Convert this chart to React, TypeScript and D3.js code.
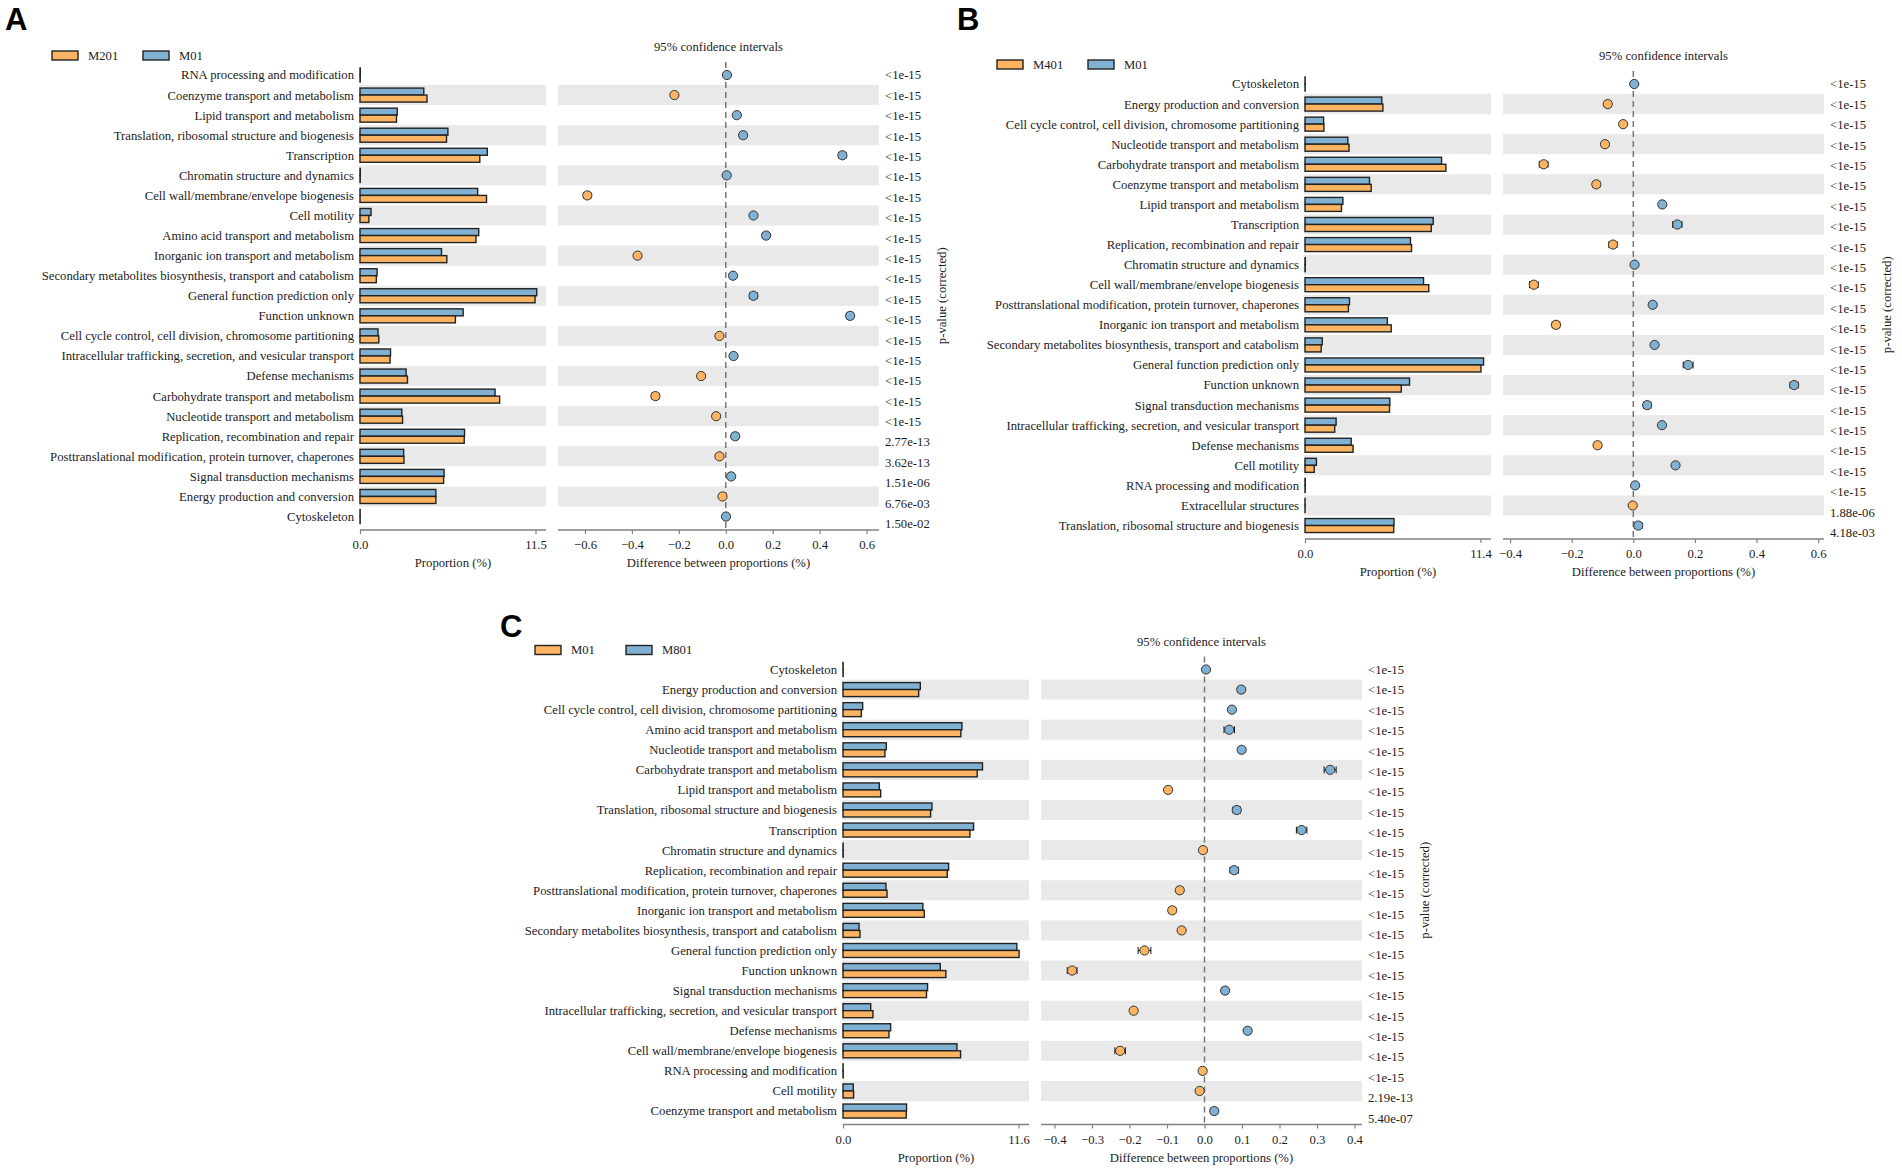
import React, { useEffect, useRef } from 'react';
import * as d3 from 'd3';

const ORANGE = '#fdb462';
const BLUE = '#80b1d3';
const SERIF = '"Liberation Serif", "Times New Roman", serif';
const LT = '<1e-15';

// Panel A: M201 (orange) vs M01 (blue)
const catA = [
  'RNA processing and modification',
  'Coenzyme transport and metabolism',
  'Lipid transport and metabolism',
  'Translation, ribosomal structure and biogenesis',
  'Transcription',
  'Chromatin structure and dynamics',
  'Cell wall/membrane/envelope biogenesis',
  'Cell motility',
  'Amino acid transport and metabolism',
  'Inorganic ion transport and metabolism',
  'Secondary metabolites biosynthesis, transport and catabolism',
  'General function prediction only',
  'Function unknown',
  'Cell cycle control, cell division, chromosome partitioning',
  'Intracellular trafficking, secretion, and vesicular transport',
  'Defense mechanisms',
  'Carbohydrate transport and metabolism',
  'Nucleotide transport and metabolism',
  'Replication, recombination and repair',
  'Posttranslational modification, protein turnover, chaperones',
  'Signal transduction mechanisms',
  'Energy production and conversion',
  'Cytoskeleton',
];
const m01A = [0.02, 4.18, 2.44, 5.76, 8.34, 0.02, 7.71, 0.72, 7.78, 5.34, 1.12, 11.58, 6.76, 1.18, 2.0, 3.02, 8.85, 2.74, 6.85, 2.86, 5.51, 4.97, 0.01];
const m201A = [0.015, 4.39, 2.39, 5.67, 7.85, 0.015, 8.29, 0.58, 7.6, 5.69, 1.07, 11.47, 6.25, 1.23, 1.97, 3.11, 9.15, 2.79, 6.83, 2.88, 5.48, 4.97, 0.01];
const diffA = [0.005, -0.219, 0.047, 0.074, 0.497, 0.004, -0.59, 0.118, 0.172, -0.376, 0.031, 0.118, 0.53, -0.027, 0.033, -0.105, -0.3, -0.041, 0.04, -0.027, 0.023, -0.014, 0.001];
const ciA = [0.004, 0.012, 0.009, 0.013, 0.015, 0.003, 0.015, 0.007, 0.014, 0.013, 0.006, 0.016, 0.014, 0.006, 0.008, 0.009, 0.015, 0.009, 0.014, 0.01, 0.012, 0.012, 0.002];
const pA = [LT, LT, LT, LT, LT, LT, LT, LT, LT, LT, LT, LT, LT, LT, LT, LT, LT, LT, '2.77e-13', '3.62e-13', '1.51e-06', '6.76e-03', '1.50e-02'];
const diffTicksA = [-0.6, -0.4, -0.2, 0, 0.2, 0.4, 0.6];

// Panel B: M401 (orange) vs M01 (blue)
const catB = [
  'Cytoskeleton',
  'Energy production and conversion',
  'Cell cycle control, cell division, chromosome partitioning',
  'Nucleotide transport and metabolism',
  'Carbohydrate transport and metabolism',
  'Coenzyme transport and metabolism',
  'Lipid transport and metabolism',
  'Transcription',
  'Replication, recombination and repair',
  'Chromatin structure and dynamics',
  'Cell wall/membrane/envelope biogenesis',
  'Posttranslational modification, protein turnover, chaperones',
  'Inorganic ion transport and metabolism',
  'Secondary metabolites biosynthesis, transport and catabolism',
  'General function prediction only',
  'Function unknown',
  'Signal transduction mechanisms',
  'Intracellular trafficking, secretion, and vesicular transport',
  'Defense mechanisms',
  'Cell motility',
  'RNA processing and modification',
  'Extracellular structures',
  'Translation, ribosomal structure and biogenesis',
];
const m01B = [0.01, 4.99, 1.21, 2.78, 8.87, 4.19, 2.46, 8.33, 6.85, 0.02, 7.7, 2.89, 5.35, 1.12, 11.6, 6.79, 5.51, 2.02, 3.0, 0.74, 0.02, 0.005, 5.78];
const m401B = [0.01, 5.06, 1.23, 2.86, 9.15, 4.3, 2.37, 8.2, 6.92, 0.015, 8.04, 2.82, 5.6, 1.05, 11.43, 6.25, 5.49, 1.93, 3.12, 0.6, 0.015, 0.005, 5.76];
const diffB = [0.003, -0.083, -0.033, -0.092, -0.291, -0.12, 0.094, 0.143, -0.066, 0.004, -0.323, 0.063, -0.251, 0.069, 0.178, 0.522, 0.045, 0.093, -0.116, 0.137, 0.006, -0.002, 0.016];
const ciB = [0.003, 0.01, 0.006, 0.009, 0.014, 0.011, 0.009, 0.015, 0.013, 0.003, 0.014, 0.009, 0.012, 0.006, 0.016, 0.013, 0.012, 0.008, 0.01, 0.005, 0.003, 0.002, 0.012];
const pB = [LT, LT, LT, LT, LT, LT, LT, LT, LT, LT, LT, LT, LT, LT, LT, LT, LT, LT, LT, LT, LT, '1.88e-06', '4.18e-03'];
const diffTicksB = [-0.4, -0.2, 0, 0.2, 0.4, 0.6];

// Panel C: M01 (orange) vs M801 (blue)
const catC = [
  'Cytoskeleton',
  'Energy production and conversion',
  'Cell cycle control, cell division, chromosome partitioning',
  'Amino acid transport and metabolism',
  'Nucleotide transport and metabolism',
  'Carbohydrate transport and metabolism',
  'Lipid transport and metabolism',
  'Translation, ribosomal structure and biogenesis',
  'Transcription',
  'Chromatin structure and dynamics',
  'Replication, recombination and repair',
  'Posttranslational modification, protein turnover, chaperones',
  'Inorganic ion transport and metabolism',
  'Secondary metabolites biosynthesis, transport and catabolism',
  'General function prediction only',
  'Function unknown',
  'Signal transduction mechanisms',
  'Intracellular trafficking, secretion, and vesicular transport',
  'Defense mechanisms',
  'Cell wall/membrane/envelope biogenesis',
  'RNA processing and modification',
  'Cell motility',
  'Coenzyme transport and metabolism',
];
const m801C = [0.01, 5.11, 1.3, 7.86, 2.86, 9.22, 2.4, 5.88, 8.63, 0.01, 6.98, 2.84, 5.28, 1.06, 11.49, 6.43, 5.59, 1.83, 3.15, 7.53, 0.01, 0.68, 4.2];
const m01C = [0.01, 5.0, 1.21, 7.79, 2.77, 8.87, 2.49, 5.79, 8.39, 0.015, 6.89, 2.91, 5.37, 1.12, 11.64, 6.8, 5.52, 1.98, 3.04, 7.77, 0.015, 0.7, 4.18];
const diffC = [0.004, 0.098, 0.073, 0.066, 0.099, 0.335, -0.097, 0.086, 0.259, -0.004, 0.079, -0.066, -0.086, -0.061, -0.16, -0.353, 0.055, -0.189, 0.115, -0.225, -0.005, -0.013, 0.026];
const ciC = [0.003, 0.009, 0.006, 0.014, 0.008, 0.016, 0.007, 0.01, 0.014, 0.003, 0.011, 0.008, 0.009, 0.006, 0.017, 0.013, 0.009, 0.007, 0.008, 0.014, 0.003, 0.004, 0.009];
const pC = [LT, LT, LT, LT, LT, LT, LT, LT, LT, LT, LT, LT, LT, LT, LT, LT, LT, LT, LT, LT, LT, '2.19e-13', '5.40e-07'];
const diffTicksC = [-0.4, -0.3, -0.2, -0.1, 0, 0.1, 0.2, 0.3, 0.4];

interface PanelSpec {
  letter: string;
  letterX: number;
  letterY: number;
  x0: number; // left edge of the proportion axis
  y0: number; // centre of the first row
  legend: [string, string]; // orange name, blue name
  cats: string[];
  blue: number[];
  orange: number[];
  diff: number[];
  ci: number[];
  pvals: string[];
  barMax: number;
  diffDomain: [number, number];
  diffTicks: number[];
}

const panels: PanelSpec[] = [
  {
    letter: 'A', letterX: 5, letterY: 30, x0: 360, y0: 75,
    legend: ['M201', 'M01'], cats: catA, blue: m01A, orange: m201A,
    diff: diffA, ci: ciA, pvals: pA, barMax: 11.5,
    diffDomain: [-0.715, 0.653], diffTicks: diffTicksA,
  },
  {
    letter: 'B', letterX: 957, letterY: 30, x0: 1305, y0: 84,
    legend: ['M401', 'M01'], cats: catB, blue: m01B, orange: m401B,
    diff: diffB, ci: ciB, pvals: pB, barMax: 11.4,
    diffDomain: [-0.423, 0.619], diffTicks: diffTicksB,
  },
  {
    letter: 'C', letterX: 500, letterY: 637, x0: 843, y0: 669.5,
    legend: ['M01', 'M801'], cats: catC, blue: m801C, orange: m01C,
    diff: diffC, ci: ciC, pvals: pC, barMax: 11.6,
    diffDomain: [-0.436, 0.42], diffTicks: diffTicksC,
  },
];

const ROW = 20.07;
const BAND_W = 186;   // grey band width behind the bars
const TICK_W = 175.5; // where the max proportion tick sits
const DIFF_X = 198;
const DIFF_W = 321;
const FS = 12.7;
const INK = '#1c1c1c';

function drawPanel(svg: d3.Selection<SVGSVGElement, unknown, null, undefined>, s: PanelSpec) {
  const g = svg.append('g');
  const n = s.cats.length;
  const idx = d3.range(n);

  const y = d3.scaleBand<number>()
    .domain(idx)
    .range([s.y0 - ROW / 2, s.y0 - ROW / 2 + n * ROW])
    .paddingInner(0);
  const cy = (i: number) => (y(i) as number) + ROW / 2;

  const xb = d3.scaleLinear().domain([0, s.barMax]).range([s.x0, s.x0 + TICK_W]);
  const dx0 = s.x0 + DIFF_X;
  const xd = d3.scaleLinear().domain(s.diffDomain).range([dx0, dx0 + DIFF_W]);
  const axisY = cy(n - 1) + 13.5;

  // letter
  g.append('text')
    .attr('x', s.letterX).attr('y', s.letterY)
    .attr('font-family', '"Liberation Sans", Arial, sans-serif')
    .attr('font-weight', 'bold').attr('font-size', 31)
    .attr('fill', '#000').text(s.letter);

  // legend
  const legY = s.y0 - 19.5;
  [[s.legend[0], ORANGE], [s.legend[1], BLUE]].forEach(([name, col], k) => {
    const lx = s.x0 - 308 + k * 91;
    g.append('rect')
      .attr('x', lx).attr('y', legY - 4.5).attr('width', 26).attr('height', 9)
      .attr('fill', col).attr('stroke', '#222').attr('stroke-width', 1.4);
    g.append('text')
      .attr('x', lx + 36).attr('y', legY).attr('dy', '0.35em')
      .attr('font-family', SERIF).attr('font-size', FS).attr('fill', INK)
      .text(name);
  });

  // alternating grey row bands
  const odd = idx.filter(i => i % 2 === 1);
  g.selectAll('rect.bandL').data(odd).join('rect')
    .attr('x', s.x0 - 1).attr('y', i => y(i) as number)
    .attr('width', BAND_W + 1).attr('height', y.bandwidth())
    .attr('fill', '#e9e9e9');
  g.selectAll('rect.bandR').data(odd).join('rect')
    .attr('x', dx0).attr('y', i => y(i) as number)
    .attr('width', DIFF_W).attr('height', y.bandwidth())
    .attr('fill', '#e9e9e9');

  // category labels
  g.selectAll('text.cat').data(idx).join('text')
    .attr('x', s.x0 - 6).attr('y', i => cy(i)).attr('dy', '0.35em')
    .attr('text-anchor', 'end')
    .attr('font-family', SERIF).attr('font-size', FS).attr('fill', INK)
    .text(i => s.cats[i]);

  // bars: blue above, orange below
  const BH = 7;
  g.selectAll('rect.blue').data(idx).join('rect')
    .attr('x', s.x0).attr('y', i => cy(i) - BH)
    .attr('width', i => xb(s.blue[i]) - s.x0).attr('height', BH)
    .attr('fill', BLUE).attr('stroke', '#222').attr('stroke-width', 1.4);
  g.selectAll('rect.orange').data(idx).join('rect')
    .attr('x', s.x0).attr('y', i => cy(i))
    .attr('width', i => xb(s.orange[i]) - s.x0).attr('height', BH)
    .attr('fill', ORANGE).attr('stroke', '#222').attr('stroke-width', 1.4);

  // proportion axis
  const axisStyle = (ax: d3.Selection<SVGGElement, unknown, null, undefined>) => {
    ax.select('.domain').remove();
    ax.selectAll('.tick line').attr('stroke', '#808080').attr('stroke-width', 1.2);
    ax.selectAll('.tick text')
      .attr('font-family', SERIF).attr('font-size', FS).attr('fill', INK)
      .attr('dy', '0.95em');
  };
  g.append('line')
    .attr('x1', s.x0).attr('x2', s.x0 + BAND_W).attr('y1', axisY).attr('y2', axisY)
    .attr('stroke', '#808080').attr('stroke-width', 1.5);
  g.append('g')
    .attr('transform', `translate(0,${axisY})`)
    .call(d3.axisBottom(xb).tickValues([0, s.barMax]).tickSize(4).tickPadding(3).tickFormat(d3.format('.1f')) as any)
    .call(axisStyle);
  g.append('text')
    .attr('x', s.x0 + BAND_W / 2).attr('y', axisY + 33).attr('dy', '0.35em')
    .attr('text-anchor', 'middle')
    .attr('font-family', SERIF).attr('font-size', FS).attr('fill', INK)
    .text('Proportion (%)');

  // difference axis
  g.append('line')
    .attr('x1', dx0).attr('x2', dx0 + DIFF_W).attr('y1', axisY).attr('y2', axisY)
    .attr('stroke', '#808080').attr('stroke-width', 1.5);
  g.append('g')
    .attr('transform', `translate(0,${axisY})`)
    .call(d3.axisBottom(xd).tickValues(s.diffTicks).tickSize(4).tickPadding(3).tickFormat(d3.format('.1f')) as any)
    .call(axisStyle);
  g.append('text')
    .attr('x', dx0 + DIFF_W / 2).attr('y', axisY + 33).attr('dy', '0.35em')
    .attr('text-anchor', 'middle')
    .attr('font-family', SERIF).attr('font-size', FS).attr('fill', INK)
    .text('Difference between proportions (%)');
  g.append('text')
    .attr('x', dx0 + DIFF_W / 2).attr('y', s.y0 - 28).attr('dy', '0.35em')
    .attr('text-anchor', 'middle')
    .attr('font-family', SERIF).attr('font-size', FS).attr('fill', INK)
    .text('95% confidence intervals');

  // zero line
  g.append('line')
    .attr('x1', xd(0)).attr('x2', xd(0))
    .attr('y1', s.y0 - 13).attr('y2', axisY)
    .attr('stroke', '#777').attr('stroke-width', 1.5)
    .attr('stroke-dasharray', '6,4');

  // confidence intervals and points
  const ciG = g.append('g').attr('stroke', '#111').attr('stroke-width', 1);
  idx.forEach(i => {
    const lo = xd(s.diff[i] - s.ci[i]);
    const hi = xd(s.diff[i] + s.ci[i]);
    const c = cy(i);
    ciG.append('line').attr('x1', lo).attr('x2', hi).attr('y1', c).attr('y2', c);
    ciG.append('line').attr('x1', lo).attr('x2', lo).attr('y1', c - 3.5).attr('y2', c + 3.5);
    ciG.append('line').attr('x1', hi).attr('x2', hi).attr('y1', c - 3.5).attr('y2', c + 3.5);
  });
  g.selectAll('circle.pt').data(idx).join('circle')
    .attr('cx', i => xd(s.diff[i])).attr('cy', i => cy(i)).attr('r', 4.6)
    .attr('fill', i => (s.diff[i] > 0 ? BLUE : ORANGE))
    .attr('stroke', '#333').attr('stroke-width', 1);

  // p-values
  g.selectAll('text.pv').data(idx).join('text')
    .attr('x', dx0 + DIFF_W + 6).attr('y', i => s.y0 + i * (ROW + 0.32)).attr('dy', '0.35em')
    .attr('font-family', SERIF).attr('font-size', FS).attr('fill', INK)
    .text(i => s.pvals[i]);
  g.append('text')
    .attr('transform', `translate(${dx0 + DIFF_W + 63},${(s.y0 + cy(n - 1)) / 2}) rotate(-90)`)
    .attr('dy', '0.35em').attr('text-anchor', 'middle')
    .attr('font-family', SERIF).attr('font-size', FS).attr('fill', INK)
    .text('p-value (corrected)');
}

const App: React.FC = () => {
  const svgRef = useRef<SVGSVGElement>(null);

  useEffect(() => {
    if (!svgRef.current) return;
    const svg = d3.select(svgRef.current);
    svg.selectAll('*').remove();
    panels.forEach(p => drawPanel(svg, p));
  }, []);

  return (
    <svg
      ref={svgRef}
      width={1902}
      height={1171}
      viewBox="0 0 1902 1171"
      style={{ position: 'absolute', left: 0, top: 0, background: '#fff' }}
    />
  );
};

export default App;
